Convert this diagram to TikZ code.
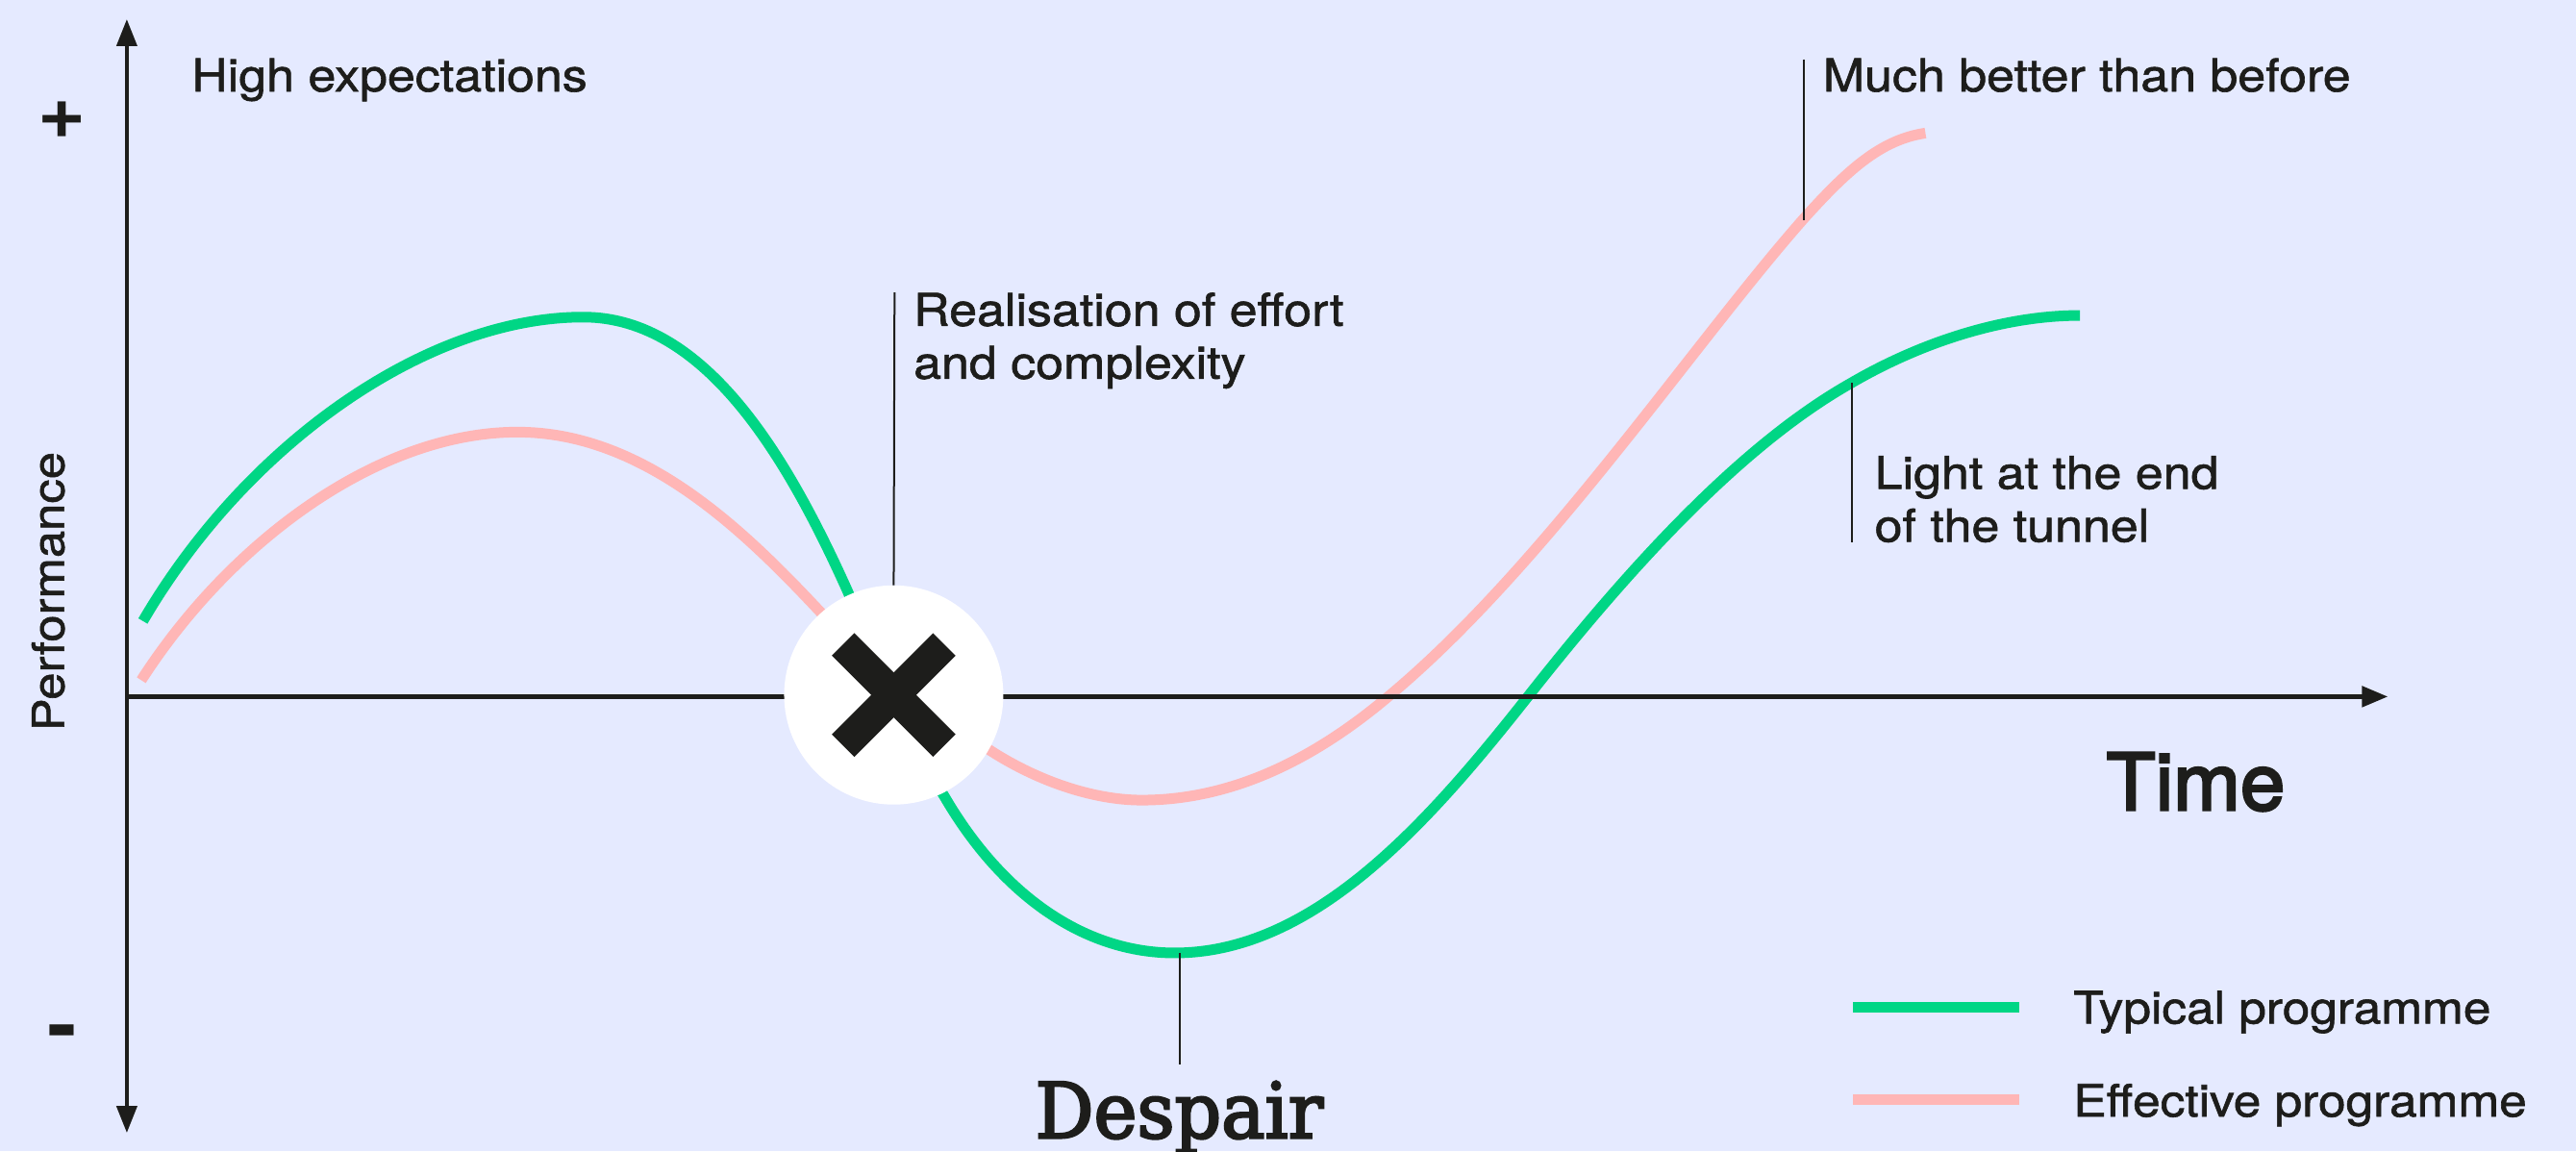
\documentclass[tikz,border=0pt]{standalone}
\usepackage{fontspec}
\setmainfont[FakeStretch=1.105,FakeBold=1.3]{TeX Gyre Heros}
\newfontfamily\timefont[FakeStretch=1.02,FakeBold=3]{TeX Gyre Heros}
\newfontfamily\signfont[FakeStretch=1.1]{TeX Gyre Heros}
\newfontfamily\slabfont[FakeStretch=0.95,FakeBold=3]{DejaVu Serif}
\usetikzlibrary{arrows.meta}
\definecolor{bgc}{HTML}{E5EAFF}
\definecolor{ink}{HTML}{1D1D1B}
\definecolor{greenc}{HTML}{00D685}
\definecolor{pinkc}{HTML}{FFB6B6}
\tikzset{
  curvegreen/.style={draw=greenc,line width=11pt},
  curvepink/.style={draw=pinkc,line width=11pt},
  leader/.style={draw=ink,line width=2pt},
  axisline/.style={draw=ink,line width=5pt},
  lab/.style={text=ink,inner sep=0pt,anchor=base west,align=left,font=\fontsize{47}{55}\selectfont},
  big/.style={text=ink,inner sep=0pt,anchor=base west,font=\timefont\fontsize{82}{90}\selectfont},
}
\begin{document}
\begin{tikzpicture}[x=1.7086pt,y=-1.7086pt]
\useasboundingbox (0,0) rectangle (1568,700.6);
\fill[bgc] (0,0) rectangle (1568,700.6);
% curves
\draw[curvegreen] (87,378) .. controls (150,270) and (260,193) .. (355,193)
  .. controls (430,193) and (480,280) .. (516,360)
  .. controls (535,405) and (550,445) .. (575,485)
  .. controls (610,545) and (660,580) .. (715,580)
  .. controls (800,580) and (870,500) .. (930,424)
  .. controls (1000,335) and (1065,268) .. (1127,233)
  .. controls (1170,208) and (1220,192) .. (1266,192);
\draw[curvepink] (86,414) .. controls (140,330) and (230,263) .. (315,263)
  .. controls (390,263) and (450,320) .. (497,370)
  .. controls (530,405) and (560,435) .. (600,455)
  .. controls (630,475) and (665,487) .. (695,487)
  .. controls (750,487) and (800,462) .. (845,424)
  .. controls (940,345) and (1030,210) .. (1098,133)
  .. controls (1125,103) and (1145,85) .. (1172,81);
% axes
\coordinate (ytop) at (77.2,11.7);
\coordinate (ybot) at (77.2,689.5);
\coordinate (xorg) at (77.2,424);
\coordinate (xend) at (1453.5,424);
\draw[draw=ink,line width=4pt,{Triangle[length=28pt,width=21pt]}-{Triangle[length=28pt,width=21pt]}] (ytop) -- (ybot);
\draw[axisline,-{Triangle[length=27pt,width=21pt]}] (xorg) -- (xend);
% marker
\node[circle,fill=white,minimum size=228pt,inner sep=0pt] (mark) at (544,423) {};
\draw[draw=ink,line width=33pt] (mark.center) ++(-30.8,-30.8) -- ++(61.6,61.6);
\draw[draw=ink,line width=33pt] (mark.center) ++(30.8,-30.8) -- ++(-61.6,61.6);
% leaders
\coordinate (lreal) at (544.5,178);
\coordinate (lmuch1) at (1098,36);
\coordinate (lmuch2) at (1098,134);
\coordinate (llight1) at (1127,233);
\coordinate (llight2) at (1127,330);
\coordinate (ldesp1) at (718,580);
\coordinate (ldesp2) at (718,648);
\draw[leader] (lreal) -- (mark.north);
\draw[leader] (lmuch1) -- (lmuch2);
\draw[leader] (llight1) -- (llight2);
\draw[leader] (ldesp1) -- (ldesp2);
% labels
\node[lab] (high) at (116.5,55.6) {High expectations};
\node[lab] (real) at (556,230.5) {Realisation of effort\\and complexity};
\node[lab] (much) at (1109.5,55.6) {Much better than before};
\node[lab] (light) at (1141,329.7) {Light at the end\\of the tunnel};
\node[big] (time) at (1282,493) {Time};
\node[big,font=\slabfont\fontsize{80}{90}\selectfont] (desp) at (630,692.6) {Despair};
\node[lab,font=\fontsize{46}{50}\selectfont,rotate=90,anchor=base] (perf) at (39,360) {Performance};
\node[text=ink,inner sep=0pt,font=\signfont\bfseries\fontsize{78}{78}\selectfont] (plus) at (37.5,73) {+};
\node[text=ink,inner sep=0pt,font=\signfont\bfseries\fontsize{84}{84}\selectfont] (minus) at (38,632) {-};
% legend
\coordinate (lg1a) at (1128,613); \coordinate (lg1b) at (1229,613);
\coordinate (lg2a) at (1128,669.5); \coordinate (lg2b) at (1229,669.5);
\draw[curvegreen] (lg1a) -- (lg1b);
\draw[curvepink] (lg2a) -- (lg2b);
\node[lab,font=\fontsize{46.5}{55}\selectfont] (leg1) at (1262,623) {Typical programme};
\node[lab,font=\fontsize{46.5}{55}\selectfont] (leg2) at (1262,679.6) {Effective programme};
\end{tikzpicture}
\end{document}
